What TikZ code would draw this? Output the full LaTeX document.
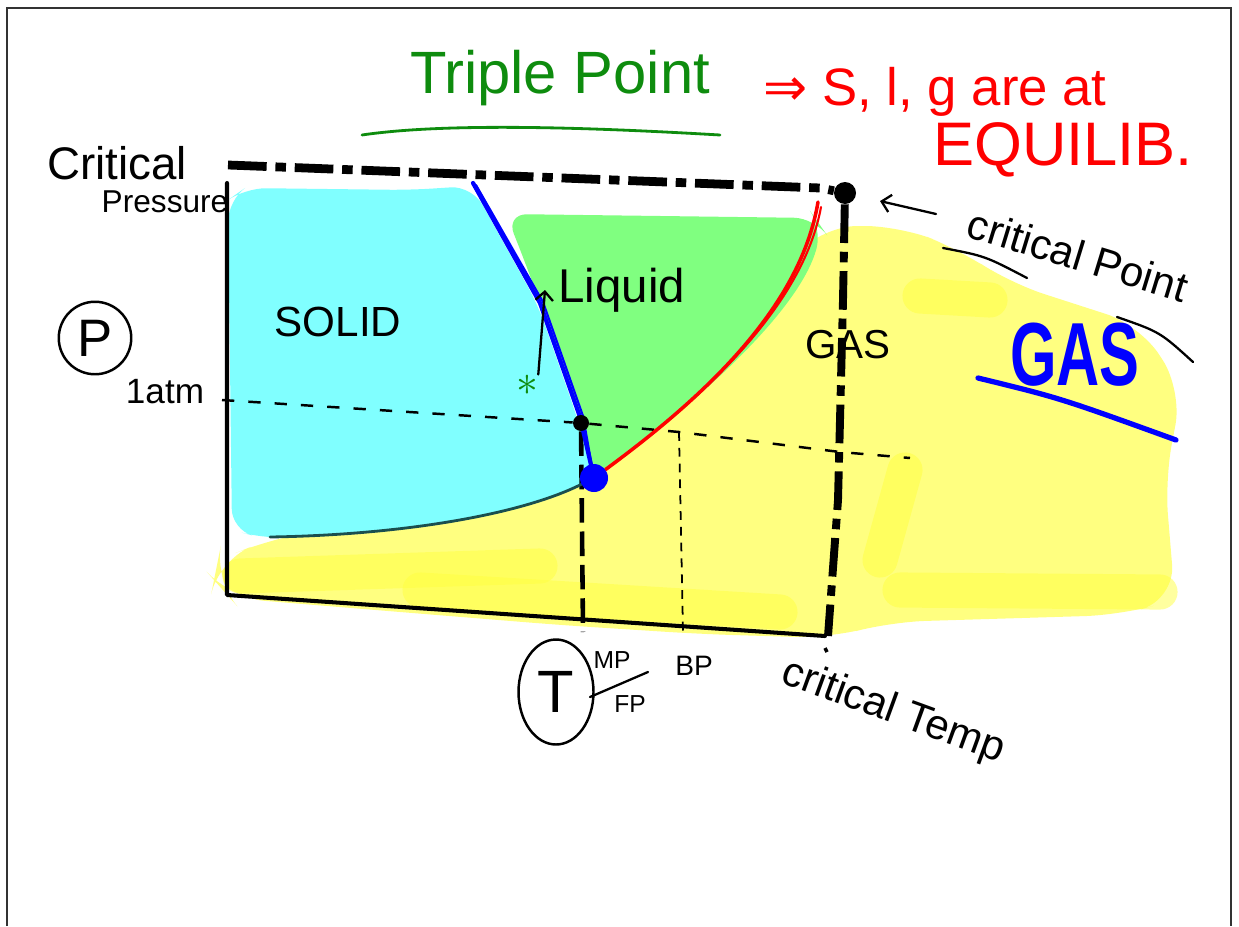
\documentclass[tikz,border=0pt]{standalone}
\usepackage{fontspec}
\setmainfont{Liberation Sans}
\newfontfamily\arrowfont{DejaVu Sans}
\usetikzlibrary{arrows.meta, positioning, calc, shapes.geometric}
\definecolor{icecyan}{HTML}{80FFFF}
\definecolor{liqgreen}{HTML}{80FF80}
\definecolor{gasyellow}{HTML}{FFFF80}
\definecolor{hiyellow}{HTML}{FFFF40}
\definecolor{inkgreen}{HTML}{0E8C0E}
\definecolor{inkred}{HTML}{FF0000}
\definecolor{inkblue}{HTML}{0000FF}
\definecolor{sgteal}{HTML}{1A4F4F}
\definecolor{framegray}{HTML}{333333}

\begin{document}
\begin{tikzpicture}[x=0.02cm, y=-0.02cm,
  hand/.style={font=\fontsize{#1}{#1}\selectfont, inner sep=0pt},
  hand/.default=22,
  ink/.style={draw=black, line width=1.3pt, line cap=round, line join=round},
  axisline/.style={draw=black, line width=2.3pt, line cap=round, line join=round},
  critline/.style={draw=black, line width=#1, dash pattern=on 22pt off 5pt on 6pt off 5pt},
  critline/.default=5pt,
  atmline/.style={draw=black, line width=1.4pt, dash pattern=on 7pt off 8pt},
  mpline/.style={draw=black, line width=2.6pt, dash pattern=on 14pt off 5pt},
  bpline/.style={draw=black, line width=1pt, dash pattern=on 5pt off 4pt},
  fusion/.style={draw=inkblue, line width=2.4pt, line cap=round, line join=round},
  vapour/.style={draw=inkred, line width=2pt, line cap=round},
  sublim/.style={draw=sgteal, line width=1.6pt, line cap=round},
  hilite/.style={draw=hiyellow, line width=20pt, line cap=round, opacity=0.5},
  phasedot/.style={circle, fill=#1, inner sep=0pt},
  phasedot/.default=black,
  >={Straight Barb[length=5pt, width=10pt]},
]

% Page and frame
\fill[white] (0,0) rectangle (1239,926);
\path[use as bounding box] (0,0) rectangle (1239,926);
\draw[framegray, line width=1.3pt] (7,926) -- (7,8) -- (1231,8) -- (1231,926);

% Key points
\node[phasedot=inkblue, minimum size=0.56cm] (tp) at (594,478) {};
\node[phasedot, minimum size=0.44cm] (cp) at (845,193) {};
\node[phasedot, minimum size=0.32cm] (atmdot) at (581,423) {};
\coordinate (bpdot) at (679,432);

% ============================================================
% Phase regions
% ============================================================

% gas (highlighter)
\fill[gasyellow, rounded corners=20pt]
  (218,560) -- (268,540) -- (tp.center) -- (822,226) -- (900,226)
  -- (960,250) -- (1010,283) -- (1140,325) -- (1182,390) -- (1165,480)
  -- (1175,600) -- (1120,615) -- (890,622) -- (830,638) -- (700,634)
  -- (560,625) -- (400,612) -- (230,598) -- (214,580) -- cycle;
\draw[hilite] (240,576) -- (540,566);
\draw[hilite] (420,590) -- (780,612);
\draw[hilite] (900,590) -- (1160,592);
\draw[hilite] (920,296) -- (990,300);
\draw[hilite] (880,560) -- (905,470);

% solid
\fill[icecyan, rounded corners=12pt]
  (228,200) -- (245,188) -- (410,190) -- (472,186) -- (538,305)
  -- (578,420) -- (tp.center) .. controls (520,515) and (400,535) .. (262,538)
  -- (232,530) -- cycle;

% liquid
\fill[liqgreen, rounded corners=12pt]
  (506,214) -- (815,218) -- (822,228) .. controls (800,310) and (700,400) .. (tp.center)
  -- (580,420) -- (540,303) -- (525,262) -- cycle;

% ============================================================
% Axes and reference lines
% ============================================================
\draw[axisline] (227,183) -- (227,595) -- (825,636);

\draw[critline] (228,165) -- (820,188) -- (cp);
\draw[critline=4.5pt] (cp) -- (843,300) -- (838,500) -- (828,636);
\draw[black, line width=2pt] (825,648) -- (827,652);

\draw[atmline] (222,400) -- (atmdot) -- (bpdot) -- (840,452) -- (910,458);
\coordinate (mpfoot) at (583,632);
\coordinate (bpfoot) at (683,632);
\draw[mpline] (atmdot) -- (mpfoot);
\draw[bpline] (bpdot) -- (bpfoot);

% ============================================================
% Phase boundaries
% ============================================================
\draw[sublim] (tp) .. controls (520,515) and (400,535) .. (270,537);
\draw[fusion] (473,183) -- (540,303) -- (580,417) -- (tp);
\draw[fusion, line width=1.2pt] (476,185) -- (543,302) -- (583,416) -- (tp);
\draw[vapour] (tp) .. controls (700,400) and (800,310) .. (818,202);
\draw[vapour, line width=1.2pt] (tp) .. controls (703,398) and (803,306) .. (821,207);
\node[phasedot=inkblue, minimum size=0.56cm] at (tp) {};
\node[phasedot, minimum size=0.32cm] at (atmdot) {};

% ============================================================
% Labels
% ============================================================
\node[hand=34, text=inkgreen] (triple) at (560,78) {Triple Point};
\draw[inkgreen, line width=1.6pt, line cap=round]
  (362,135) .. controls (450,122) and (600,128) .. (720,135);
\node[hand=30, text=inkred] (equil) at (935,92) {{\arrowfont ⇒} S, l, g are at};
\node[hand=35, text=inkred] (equilib) at (1063,150) {EQUILIB.};

\node[hand=26] (crit) at (117,163) {Critical};
\node[hand=18] (press) at (165,202) {Pressure};
\node[circle, draw, line width=1.4pt, minimum size=1.45cm, hand=30] (paxis) at (95,338) {P};
\node[hand=20] (atm) at (165,392) {1atm};

\node[hand=24] (solid) at (338,322) {SOLID};
\node[text=inkgreen, hand=36] (star) at (527,385) {$\ast$};
\coordinate (liqtip) at (545,290);
\draw[ink, ->] (star.north east) -- (liqtip);
\node[hand=27, anchor=west] (liquid) at (558,290) {Liquid};
\node[hand=23] (gasin) at (848,345) {GAS};

\node[hand=34, text=inkblue] (gasout) at (1075,355) {\scalebox{1}[1.5]{\bfseries GAS}};
\draw[inkblue, line width=3pt, line cap=round]
  (978,378) .. controls (1060,398) .. (1176,440);

\node[hand=24, rotate=-17] (cplabel) at (1078,255) {critical Point};
\coordinate (cptail) at (936,214);
\draw[ink, ->, shorten >=14pt] (cptail) -- (cp);
\draw[ink] (943,248) .. controls (985,256) .. (1027,278);
\draw[ink] (1117,317) .. controls (1160,332) .. (1193,362);

\node[ellipse, draw, line width=1.4pt, minimum width=1.5cm, minimum height=2.1cm, hand=34] (taxis) at (556,692) {T};
\node[hand=14] (mp) at (612,660) {MP};
\node[hand=14] (fp) at (630,704) {FP};
\draw[ink] (590,697) -- (648,672);
\node[hand=16] (bp) at (694,666) {BP};
\node[hand=24, rotate=-20] (ctlabel) at (893,712) {critical Temp};

\end{tikzpicture}
\end{document}
